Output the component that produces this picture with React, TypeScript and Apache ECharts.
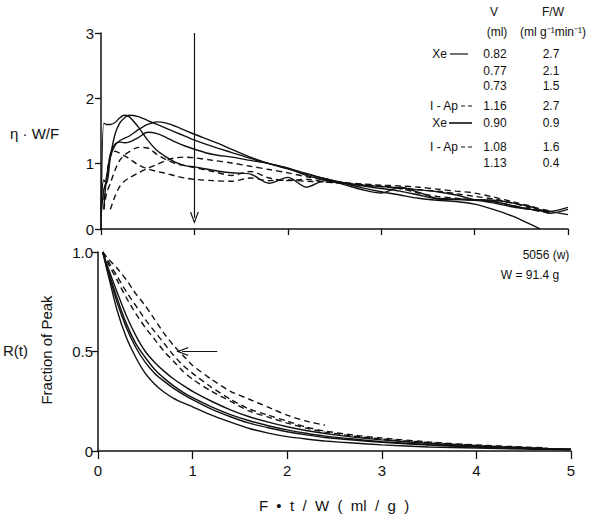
import React, { useEffect, useRef } from "react";
import * as echarts from "echarts";

// ---------- data ----------
// Upper panel: eta * W/F versus F*t/W
const X_TOP = [0, 0.03, 0.06, 0.1, 0.15, 0.2, 0.25, 0.3, 0.4, 0.5, 0.6, 0.7, 0.8, 0.9, 1.0, 1.2, 1.4, 1.6, 1.8, 2.0, 2.2, 2.4, 2.6, 2.8, 3.0, 3.2, 3.4, 3.6, 3.8, 4.0, 4.2, 4.4, 4.6, 4.7, 4.8, 5.0];

const TOP_XE_082 = [0, 1.62, 1.6, 1.6, 1.63, 1.7, 1.74, 1.72, 1.56, 1.36, 1.2, 1.1, 1.02, 0.97, 0.95, 0.9, 0.86, 0.84, 0.7, 0.79, 0.64, 0.74, 0.7, 0.66, 0.62, 0.58, 0.52, 0.46, 0.45, 0.44, 0.42, 0.36, 0.3, 0.28, 0.27, 0.33];
const TOP_XE_077 = [0.3, 0.75, 0.7, 1.1, 1.45, 1.62, 1.7, 1.74, 1.72, 1.66, 1.6, 1.54, 1.48, 1.42, 1.36, 1.26, 1.17, 1.08, 1.0, 0.93, 0.85, 0.77, 0.7, 0.63, 0.57, 0.52, 0.47, 0.44, 0.42, 0.38, 0.3, 0.2, 0.07, 0.0, null, null];
const TOP_XE_073 = [null, 0.3, 0.8, 1.1, 1.28, 1.35, 1.39, 1.42, 1.52, 1.6, 1.64, 1.62, 1.57, 1.51, 1.45, 1.34, 1.22, 1.1, 1.0, 0.92, 0.84, 0.77, 0.71, 0.67, 0.65, 0.63, 0.6, 0.57, 0.52, 0.45, 0.4, 0.34, 0.3, 0.29, 0.27, 0.22];
const TOP_AP_116 = [null, null, null, 0.3, 0.5, 0.65, 0.73, 0.78, 0.86, 0.93, 0.99, 1.05, 1.09, 1.1, 1.09, 1.05, 1.01, 0.96, 0.91, 0.86, 0.8, 0.75, 0.71, 0.69, 0.67, 0.66, 0.64, 0.61, 0.58, 0.55, 0.49, 0.42, 0.35, 0.31, 0.28, null];
const TOP_XE_090 = [0.2, 0.6, 0.75, 1.15, 1.3, 1.33, 1.32, 1.33, 1.4, 1.48, 1.46, 1.4, 1.33, 1.27, 1.22, 1.14, 1.1, 1.05, 1.0, 0.93, 0.82, 0.75, 0.68, 0.6, 0.55, 0.64, 0.56, 0.47, 0.46, 0.45, 0.44, 0.4, 0.34, 0.29, 0.24, 0.3];
const TOP_AP_108 = [null, 0.3, 0.55, 0.7, 0.9, 1.05, 1.13, 1.18, 1.25, 1.24, 1.14, 1.06, 1.0, 0.97, 0.94, 0.88, 0.82, 0.88, 0.78, 0.74, 0.76, 0.72, 0.7, 0.68, 0.66, 0.62, 0.55, 0.5, 0.47, 0.44, 0.42, 0.36, 0.3, 0.27, 0.25, null];
const TOP_AP_113 = [null, 0.45, 0.8, 1.12, 1.19, 1.16, 1.12, 1.08, 0.98, 0.92, 0.88, 0.85, 0.81, 0.78, 0.76, 0.74, 0.73, 0.78, 0.74, 0.75, 0.73, 0.72, 0.7, 0.68, 0.65, 0.62, 0.6, 0.58, 0.54, 0.5, 0.46, 0.4, 0.32, null, null, null];

// Lower panel: R(t), fraction of peak
const X_BOT = [0.05, 0.1, 0.2, 0.3, 0.4, 0.5, 0.6, 0.7, 0.8, 0.9, 1.0, 1.2, 1.4, 1.6, 1.8, 2.0, 2.2, 2.4, 2.7, 3.0, 3.5, 4.0, 4.5, 4.75, 5.0];

const BOT_AP_113 = [1.0, 0.97, 0.92, 0.86, 0.79, 0.73, 0.66, 0.59, 0.53, 0.48, 0.43, 0.36, 0.3, 0.26, 0.22, 0.18, 0.15, 0.13, null, null, null, null, null, null, null];
const BOT_AP_108 = [1.0, 0.96, 0.88, 0.8, 0.73, 0.66, 0.6, 0.54, 0.48, 0.43, 0.39, 0.32, 0.26, 0.21, 0.18, 0.15, 0.12, 0.1, 0.08, 0.065, 0.045, 0.03, 0.02, 0.015, null];
const BOT_AP_116 = [1.0, 0.95, 0.86, 0.77, 0.69, 0.62, 0.56, 0.5, 0.45, 0.4, 0.36, 0.3, 0.25, 0.2, 0.17, 0.14, 0.115, 0.095, 0.075, 0.06, 0.042, 0.028, 0.018, 0.013, null];
const BOT_XE_090 = [1.0, 0.93, 0.8, 0.68, 0.58, 0.5, 0.445, 0.4, 0.362, 0.33, 0.3, 0.25, 0.207, 0.172, 0.145, 0.122, 0.103, 0.088, 0.07, 0.056, 0.038, 0.025, 0.016, 0.012, 0.01];
const BOT_XE_073 = [1.0, 0.92, 0.77, 0.64, 0.54, 0.47, 0.41, 0.365, 0.327, 0.295, 0.268, 0.222, 0.183, 0.152, 0.127, 0.106, 0.089, 0.075, 0.06, 0.047, 0.032, 0.022, 0.014, 0.01, 0.008];
const BOT_XE_077 = [1.0, 0.91, 0.75, 0.62, 0.52, 0.445, 0.39, 0.35, 0.315, 0.285, 0.258, 0.21, 0.172, 0.14, 0.117, 0.097, 0.081, 0.068, 0.055, 0.044, 0.03, 0.02, 0.013, 0.01, 0.008];
const BOT_XE_082 = [1.0, 0.9, 0.71, 0.57, 0.47, 0.39, 0.335, 0.295, 0.265, 0.242, 0.222, 0.18, 0.145, 0.113, 0.09, 0.072, 0.06, 0.05, 0.04, 0.031, 0.02, 0.015, 0.01, 0.008, 0.006];

// tick labels / legend table
const TOP_Y_TICKS = [0, 1, 2, 3];
const BOT_Y_TICKS = ["0", "0.5", "1.0"];
const X_TICKS = ["0", "1", "2", "3", "4", "5"];
const LEGEND_V = ["0.82", "0.77", "0.73", "1.16", "0.90", "1.08", "1.13"];
const LEGEND_FW = ["2.7", "2.1", "1.5", "2.7", "0.9", "1.6", "0.4"];
const LEGEND_TRACER = ["Xe", "", "", "I - Ap", "Xe", "I - Ap", ""];

// ---------- helpers ----------
const FONT = '"Liberation Sans", Arial, Helvetica, sans-serif';
const INK = "#111";

const pairs = (xs: number[], ys: (number | null)[]) =>
  xs.map((x, i) => [x, ys[i]]).filter((p) => p[1] !== null && p[1] !== undefined);

const CHEVRON = "path://M0,12 L5,0 L10,12 L8.6,12 L5,3.2 L1.4,12 Z";

export default function App() {
  const ref = useRef<HTMLDivElement>(null);

  useEffect(() => {
    if (!ref.current) return;
    const chart = echarts.init(ref.current, undefined, { renderer: "svg" });

    const topDefs = [
      { ys: TOP_XE_082, dashed: false },
      { ys: TOP_XE_077, dashed: false },
      { ys: TOP_XE_073, dashed: false },
      { ys: TOP_AP_116, dashed: true },
      { ys: TOP_XE_090, dashed: false },
      { ys: TOP_AP_108, dashed: true },
      { ys: TOP_AP_113, dashed: true },
    ];
    const botDefs = [
      { ys: BOT_XE_082, dashed: false },
      { ys: BOT_XE_077, dashed: false },
      { ys: BOT_XE_073, dashed: false },
      { ys: BOT_AP_116, dashed: true },
      { ys: BOT_XE_090, dashed: false },
      { ys: BOT_AP_108, dashed: true },
      { ys: BOT_AP_113, dashed: true },
    ];

    const mkSeries = (defs: any[], xs: number[], gi: number, sm: number) =>
      defs.map((d) => ({
        type: "line",
        xAxisIndex: gi,
        yAxisIndex: gi,
        data: pairs(xs, d.ys),
        showSymbol: false,
        symbol: "none",
        smooth: sm,
        silent: true,
        clip: false,
        lineStyle: {
          color: INK,
          width: 1.4,
          type: d.dashed ? [6, 4] : "solid",
        },
        z: 3,
      }));

    const series: any[] = [...mkSeries(topDefs, X_TOP, 0, 0.3), ...mkSeries(botDefs, X_BOT, 1, 0.2)];

    // arrows (annotations on the data coordinate system)
    const arrow = (gi: number, from: number[], to: number[]) => ({
      type: "line",
      xAxisIndex: gi,
      yAxisIndex: gi,
      data: [],
      silent: true,
      markLine: {
        silent: true,
        animation: false,
        symbol: ["none", CHEVRON],
        symbolSize: [9, 12],
        label: { show: false },
        lineStyle: { color: INK, width: 1.2, type: "solid" },
        data: [[{ coord: from }, { coord: to }]],
      },
    });
    series.push(arrow(0, [1, 3], [1, 0.17]));
    series.push(arrow(1, [1.26, 0.5], [0.89, 0.5]));

    const axisLine = { show: true, lineStyle: { color: INK, width: 1.5 } };
    const axisTick = { show: true, inside: false, length: 6, lineStyle: { color: INK, width: 1.3 } };

    const txt = (text: string, x: number, y: number, opts: any = {}) => ({
      type: "text",
      x,
      y,
      rotation: opts.rotation || 0,
      silent: true,
      style: {
        text,
        fill: INK,
        font: `${opts.size || 12}px ${FONT}`,
        textAlign: opts.align || "center",
        textVerticalAlign: "middle",
      },
    });

    const rowsY = [54, 71, 86, 106, 123, 147, 163];
    const graphics: any[] = [
      txt("η · W/F", 10, 133, { size: 15, align: "left" }),
      txt("R(t)", 3, 350, { size: 15, align: "left" }),
      txt("Fraction of Peak", 46, 350, { size: 15, rotation: Math.PI / 2 }),
      txt("F  •  t  /  W  (  ml  /  g  )", 334, 505, { size: 15 }),
      txt("V", 494, 12, { size: 12 }),
      txt("F/W", 553, 12, { size: 12 }),
      txt("(ml)", 497, 32, { size: 12 }),
      txt("(ml g⁻¹min⁻¹)", 553, 32, { size: 12 }),
      txt("5056 (w)", 546, 255, { size: 12 }),
      txt("W = 91.4 g", 530, 275, { size: 12 }),
    ];
    rowsY.forEach((y, i) => {
      graphics.push(txt(LEGEND_V[i], 495, y, { size: 12 }));
      graphics.push(txt(LEGEND_FW[i], 551, y, { size: 12 }));
      if (LEGEND_TRACER[i]) {
        const isAp = LEGEND_TRACER[i] !== "Xe";
        graphics.push(txt(LEGEND_TRACER[i], isAp ? 458 : 447, y, { size: 12, align: "right" }));
        graphics.push({
          type: "line",
          silent: true,
          shape: isAp ? { x1: 461, y1: y, x2: 473, y2: y } : { x1: i === 0 ? 450 : 449, y1: y, x2: i === 0 ? 468 : 472, y2: y },
          style: { stroke: INK, lineWidth: i === 4 ? 1.6 : 1.2, lineDash: isAp ? [4, 3] : null },
        });
      }
    });

    chart.setOption({
      animation: false,
      backgroundColor: "#fff",
      textStyle: { fontFamily: FONT, color: INK },
      grid: [
        { left: 101, right: 32, top: 33, height: 196, containLabel: false },
        { left: 98, right: 29, top: 252, height: 199, containLabel: false },
      ],
      xAxis: [
        {
          type: "value", gridIndex: 0, min: 0, max: 5, interval: 1,
          axisLine, axisTick, axisLabel: { show: false }, splitLine: { show: false },
        },
        {
          type: "value", gridIndex: 1, min: 0, max: 5, interval: 1,
          axisLine, axisTick: { ...axisTick, length: 8 },
          axisLabel: { show: true, color: INK, fontSize: 15, fontFamily: FONT, margin: 12, formatter: (v: number) => X_TICKS[Math.round(v)] },
          splitLine: { show: false },
        },
      ],
      yAxis: [
        {
          type: "value", gridIndex: 0, min: 0, max: 3, interval: 1,
          axisLine, axisTick,
          axisLabel: { show: true, color: INK, fontSize: 15, fontFamily: FONT, margin: 7, formatter: (v: number) => String(TOP_Y_TICKS[Math.round(v)]) },
          splitLine: { show: false },
        },
        {
          type: "value", gridIndex: 1, min: 0, max: 1, interval: 0.5,
          axisLine, axisTick,
          axisLabel: { show: true, color: INK, fontSize: 15, fontFamily: FONT, margin: 5, formatter: (v: number) => BOT_Y_TICKS[Math.round(v * 2)] },
          splitLine: { show: false },
        },
      ],
      series,
      graphic: graphics,
    });

    return () => chart.dispose();
  }, []);

  return (
    <div
      ref={ref}
      style={{ position: "fixed", left: 0, top: 0, width: 600, height: 519, background: "#fff" }}
    />
  );
}
